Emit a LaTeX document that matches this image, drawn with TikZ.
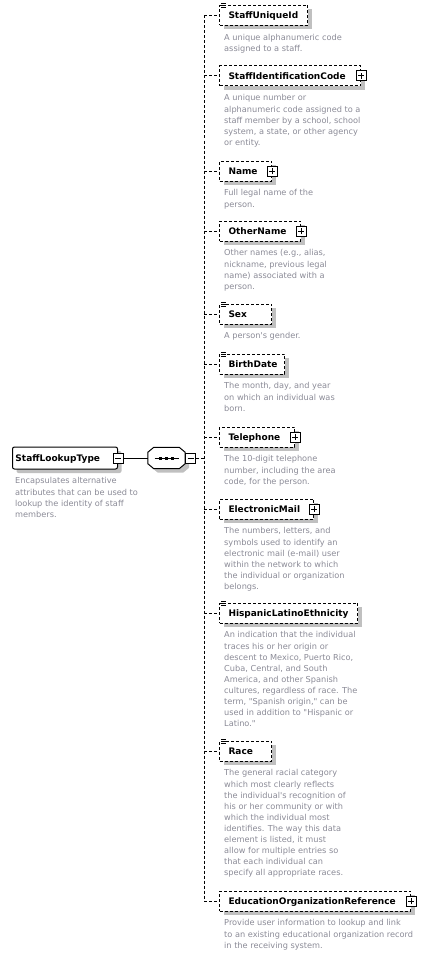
\documentclass[tikz,border=0pt]{standalone}
\usepackage{fontspec}
\setmainfont{DejaVu Sans}
\usetikzlibrary{positioning, shadows}
\definecolor{shadowgray}{RGB}{192,192,192}
\definecolor{descgray}{RGB}{138,138,150}
\hyphenpenalty = 10000
\tikzset{
  conn/.style = {dash pattern = on 3pt off 2pt, line width = 1pt},
  boxshadow/.style = {general shadow = {fill = shadowgray, shadow xshift = 4pt, shadow yshift = -4pt}},
  elem/.style = {draw, dash pattern = on 3pt off 2pt, line width = 1pt, fill = white, boxshadow,
    anchor = west, minimum height = 20, inner xsep = 9, inner ysep = 0, text width = #1, align = left,
    text height = 6.6, text depth = 0, font = \bfseries\fontsize{9}{11}\selectfont},
  ctype/.style = {draw, line width = 1pt, rounded corners = 2, fill = white, boxshadow,
    anchor = west, minimum height = 22, inner xsep = 3, inner ysep = 0, text width = #1, align = left,
    text height = 6.6, text depth = 0, font = \bfseries\fontsize{9}{11}\selectfont},
  seqbox/.style = {minimum width = 37, minimum height = 21, inner sep = 0},
  seqline/.style = {line width = 1pt, fill = white, boxshadow},
  signbox/.style = {draw, solid, line width = 1pt, fill = white, minimum size = 10, inner sep = 0},
  minusbox/.style = {signbox, path picture = {
    \draw [line width = 1pt] ([xshift = -3pt] path picture bounding box.center) -- ([xshift = 3pt] path picture bounding box.center);}},
  plusbox/.style = {signbox, path picture = {
    \draw [line width = 1pt] ([xshift = -3pt] path picture bounding box.center) -- ([xshift = 3pt] path picture bounding box.center);
    \draw [line width = 1pt] ([yshift = -3pt] path picture bounding box.center) -- ([yshift = 3pt] path picture bounding box.center);}},
  icon/.style = {line width = 1pt},
  desc/.style = {text = descgray, align = left, inner sep = 0, font = \fontsize{8.2}{11.1}\selectfont}
}
\begin{document}
\begin{tikzpicture}[x = 1pt, y = -1pt]
  \useasboundingbox (0, 0) rectangle (424, 955);
  \coordinate (bar) at (204, 0);

  \node [ctype = 99pt] (slt) at (12, 458) {StaffLookupType};
  \node [desc, below right = 8pt and 3pt of slt.south west] (sltdesc) {Encapsulates alternative\\attributes that can be used to\\lookup the identity of staff\\members.};
  \node [minusbox] (sltminus) at (slt.east) {};

  \node [seqbox] (seq) at (166.5, 458) {};
  \filldraw [seqline] ([xshift = 6pt] seq.north west) -- ([xshift = -6pt] seq.north east)
    -- ([yshift = -5pt] seq.north east) -- ([yshift = 5pt] seq.south east)
    -- ([xshift = -6pt] seq.south east) -- ([xshift = 6pt] seq.south west)
    -- ([yshift = 5pt] seq.south west) -- ([yshift = -5pt] seq.north west) -- cycle;
  \node [minusbox, right = 0pt of seq.east] (seqminus) {};
  \draw [line width = 1pt] (seq.center) ++(-12, 0) -- ++(24, 0);
  \fill (seq.center) ++(-7.5, -1.5) rectangle ++(3, 3);
  \fill (seq.center) ++(-1.5, -1.5) rectangle ++(3, 3);
  \fill (seq.center) ++(4.5, -1.5) rectangle ++(3, 3);

  \node [elem = 70pt] (uid) at (219, 15.5) {StaffUniqueId};
  \node [elem = 123pt] (sic) at (219, 76) {StaffIdentificationCode};
  \node [elem = 34pt] (name) at (219, 171) {Name};
  \node [elem = 63pt] (other) at (219, 231) {OtherName};
  \node [elem = 34pt] (sex) at (219, 314) {Sex};
  \node [elem = 47pt] (birth) at (219, 364) {BirthDate};
  \node [elem = 57pt] (tel) at (219, 437) {Telephone};
  \node [elem = 76pt] (email) at (219, 509) {ElectronicMail};
  \node [elem = 120pt] (hisp) at (219, 613) {HispanicLatinoEthnicity};
  \node [elem = 34pt] (race) at (219, 751) {Race};
  \node [elem = 173pt] (eor) at (219, 901) {EducationOrganizationReference};

  \node [plusbox] (sicplus) at (sic.east) {};
  \node [plusbox] (nameplus) at (name.east) {};
  \node [plusbox] (otherplus) at (other.east) {};
  \node [plusbox] (telplus) at (tel.east) {};
  \node [plusbox] (emailplus) at (email.east) {};
  \node [plusbox] (eorplus) at (eor.east) {};

  \draw [icon] ([xshift = 2pt, yshift = 1pt] uid.north west) -- ++(5, 0) ++(-5, 2) -- ++(5, 0) ++(-5, 2) -- ++(5, 0);
  \draw [icon] ([xshift = 2pt, yshift = 1pt] sex.north west) -- ++(5, 0) ++(-5, 2) -- ++(5, 0) ++(-5, 2) -- ++(5, 0);
  \draw [icon] ([xshift = 2pt, yshift = 1pt] birth.north west) -- ++(5, 0) ++(-5, 2) -- ++(5, 0) ++(-5, 2) -- ++(5, 0);
  \draw [icon] ([xshift = 2pt, yshift = 1pt] hisp.north west) -- ++(5, 0) ++(-5, 2) -- ++(5, 0) ++(-5, 2) -- ++(5, 0);
  \draw [icon] ([xshift = 2pt, yshift = 1pt] race.north west) -- ++(5, 0) ++(-5, 2) -- ++(5, 0) ++(-5, 2) -- ++(5, 0);

  \node [desc, below right = 8pt and 5pt of uid.south west] (uiddesc) {A unique alphanumeric code\\assigned to a staff.};
  \node [desc, below right = 8pt and 5pt of sic.south west] (sicdesc) {A unique number or\\alphanumeric code assigned to a\\staff member by a school, school\\system, a state, or other agency\\or entity.};
  \node [desc, below right = 8pt and 5pt of name.south west] (namedesc) {Full legal name of the\\person.};
  \node [desc, below right = 8pt and 5pt of other.south west] (otherdesc) {Other names (e.g., alias,\\nickname, previous legal\\name) associated with a\\person.};
  \node [desc, below right = 8pt and 5pt of sex.south west] (sexdesc) {A person\textquotesingle s gender.};
  \node [desc, below right = 8pt and 5pt of birth.south west] (birthdesc) {The month, day, and year\\on which an individual was\\born.};
  \node [desc, below right = 8pt and 5pt of tel.south west] (teldesc) {The 10-digit telephone\\number, including the area\\code, for the person.};
  \node [desc, below right = 8pt and 5pt of email.south west] (emaildesc) {The numbers, letters, and\\symbols used to identify an\\electronic mail (e-mail) user\\within the network to which\\the individual or organization\\belongs.};
  \node [desc, below right = 8pt and 5pt of hisp.south west] (hispdesc) {An indication that the individual\\traces his or her origin or\\descent to Mexico, Puerto Rico,\\Cuba, Central, and South\\America, and other Spanish\\cultures, regardless of race. The\\term, \textquotedbl Spanish origin,\textquotedbl{} can be\\used in addition to \textquotedbl Hispanic or\\Latino.\textquotedbl};
  \node [desc, below right = 8pt and 5pt of race.south west] (racedesc) {The general racial category\\which most clearly reflects\\the individual\textquotesingle s recognition of\\his or her community or with\\which the individual most\\identifies. The way this data\\element is listed, it must\\allow for multiple entries so\\that each individual can\\specify all appropriate races.};
  \node [desc, below right = 8pt and 5pt of eor.south west] (eordesc) {Provide user information to lookup and link\\to an existing educational organization record\\in the receiving system.};

  \draw [line width = 1pt] (sltminus.east) -- (seq.west);
  \draw [conn] (seqminus.east) -- (seqminus.east -| bar);
  \draw [conn] (uid.west -| bar) -- (eor.west -| bar);
  \draw [conn] (uid.west -| bar) -- (uid.west);
  \draw [conn] (sic.west -| bar) -- (sic.west);
  \draw [conn] (name.west -| bar) -- (name.west);
  \draw [conn] (other.west -| bar) -- (other.west);
  \draw [conn] (sex.west -| bar) -- (sex.west);
  \draw [conn] (birth.west -| bar) -- (birth.west);
  \draw [conn] (tel.west -| bar) -- (tel.west);
  \draw [conn] (email.west -| bar) -- (email.west);
  \draw [conn] (hisp.west -| bar) -- (hisp.west);
  \draw [conn] (race.west -| bar) -- (race.west);
  \draw [conn] (eor.west -| bar) -- (eor.west);
\end{tikzpicture}
\end{document}
